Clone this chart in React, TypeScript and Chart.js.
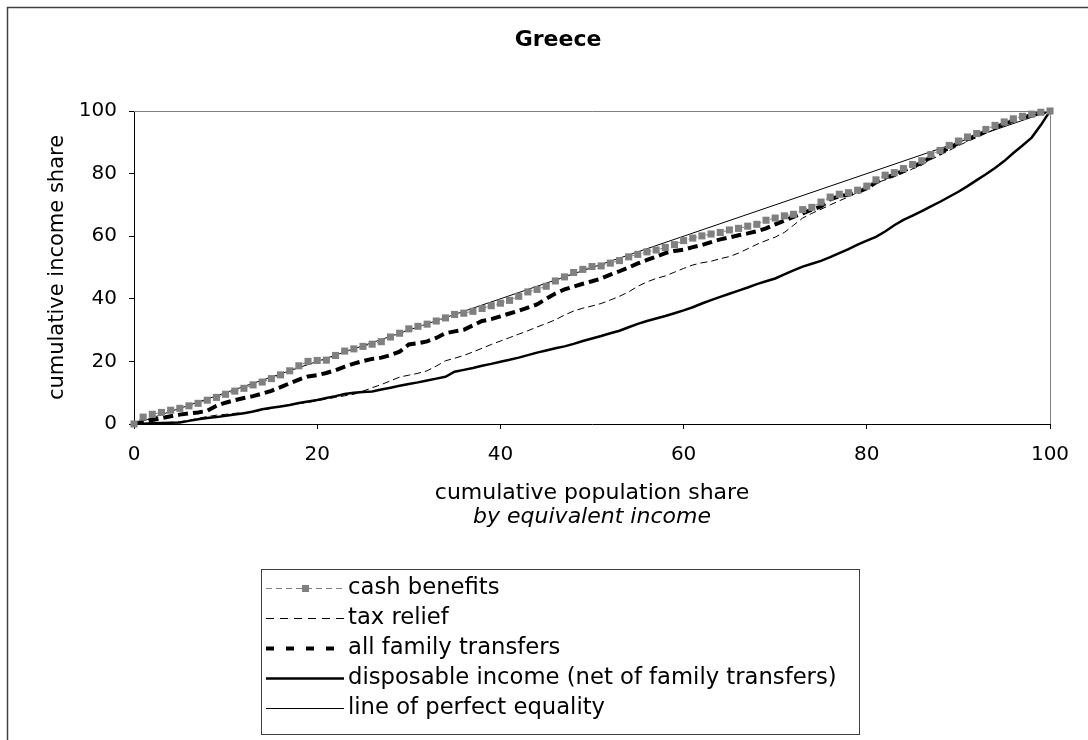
import React, { useEffect, useRef } from "react";
import { Chart, registerables } from "chart.js";

Chart.register(...registerables);

const chartTitle = "Greece";
const xTitle = "cumulative population share";
const xSubtitle = "by equivalent income";
const yTitle = "cumulative income share";
const axisTicks = [0, 20, 40, 60, 80, 100];

const populationShare = [
  0, 1, 2, 3, 4, 5, 6, 7, 8, 9,
  10, 11, 12, 13, 14, 15, 16, 17, 18, 19,
  20, 21, 22, 23, 24, 25, 26, 27, 28, 29,
  30, 31, 32, 33, 34, 35, 36, 37, 38, 39,
  40, 41, 42, 43, 44, 45, 46, 47, 48, 49,
  50, 51, 52, 53, 54, 55, 56, 57, 58, 59,
  60, 61, 62, 63, 64, 65, 66, 67, 68, 69,
  70, 71, 72, 73, 74, 75, 76, 77, 78, 79,
  80, 81, 82, 83, 84, 85, 86, 87, 88, 89,
  90, 91, 92, 93, 94, 95, 96, 97, 98, 99, 100,
];

const cashBenefits = [
  0, 2.2, 3.1, 3.7, 4.4, 5.0, 5.8, 6.6, 7.6, 8.5,
  9.5, 10.5, 11.4, 12.5, 13.4, 14.5, 15.7, 17.0, 18.6, 20.0,
  20.3, 20.4, 21.9, 23.3, 24.0, 24.8, 25.5, 26.3, 27.8, 29.0,
  30.4, 31.2, 31.9, 32.9, 33.9, 35.0, 35.4, 36.0, 36.9, 37.8,
  38.6, 39.5, 40.8, 42.2, 43.0, 44.0, 45.7, 47.0, 48.4, 49.4,
  50.3, 50.5, 51.4, 52.2, 53.4, 54.2, 55.0, 55.6, 56.4, 57.3,
  58.6, 59.4, 60.1, 60.7, 61.2, 62.0, 62.5, 63.2, 63.8, 65.1,
  65.8, 66.5, 67.0, 68.5, 69.2, 70.9, 72.5, 73.4, 73.9, 74.7,
  76.0, 78.0, 79.5, 80.3, 81.6, 82.9, 84.1, 86.1, 87.4, 89.0,
  90.4, 91.7, 92.8, 94.1, 95.4, 96.5, 97.5, 98.3, 99.0, 99.6, 100,
];

const taxRelief = [
  0, 0.1, 0.2, 0.3, 0.5, 0.7, 1.2, 1.8, 2.4, 2.8,
  3.1, 3.4, 3.7, 3.9, 4.4, 5.0, 5.7, 6.1, 6.5, 6.9,
  7.4, 8.0, 8.5, 9.0, 9.5, 10.5, 11.6, 12.6, 13.8, 15.0,
  15.6, 16.2, 17.0, 18.5, 20.2, 21.0, 21.9, 23.0, 24.2, 25.4,
  26.5, 27.6, 28.7, 29.8, 31.0, 32.1, 33.3, 34.8, 36.1, 37.0,
  37.7, 38.5, 39.6, 40.8, 42.2, 44.0, 45.4, 46.5, 47.3, 48.5,
  49.7, 50.8, 51.5, 52.0, 52.8, 53.5, 54.6, 56.0, 57.4, 58.6,
  59.7, 61.2, 63.5, 65.8, 67.3, 68.6, 70.0, 71.3, 72.6, 74.0,
  75.5, 77.0, 78.0, 79.0, 80.2, 81.5, 82.7, 84.5, 85.9, 87.4,
  88.9, 90.3, 91.5, 92.9, 94.2, 95.4, 96.5, 97.6, 98.5, 99.3, 100,
];

const allFamilyTransfers = [
  0, 0.7, 1.3, 1.9, 2.5, 3.0, 3.4, 3.7, 4.2, 5.8,
  6.8, 7.6, 8.3, 8.9, 9.7, 10.6, 11.8, 13.0, 14.2, 15.2,
  15.6, 16.3, 17.2, 18.3, 19.3, 20.1, 20.8, 21.2, 22.0, 23.1,
  25.4, 25.8, 26.4, 27.5, 29.0, 29.6, 30.1, 31.5, 32.9, 33.5,
  34.4, 35.3, 36.2, 37.2, 38.2, 40.0, 41.7, 43.0, 43.9, 44.8,
  45.6, 46.5, 47.7, 48.8, 50.0, 51.3, 52.4, 53.5, 54.6, 55.3,
  55.7, 56.5, 57.2, 58.1, 59.0, 59.6, 60.3, 60.9, 61.6, 62.5,
  63.8, 65.0, 66.2, 67.3, 68.5, 69.5, 71.8, 72.8, 73.3, 74.1,
  75.3, 77.2, 78.7, 79.6, 80.9, 82.2, 83.4, 85.3, 86.7, 88.3,
  89.7, 91.0, 92.2, 93.5, 94.8, 95.9, 97.0, 97.9, 98.7, 99.4, 100,
];

const disposableIncome = [
  0, 0.1, 0.2, 0.3, 0.4, 0.5, 1.0, 1.5, 1.9, 2.2,
  2.6, 3.0, 3.4, 4.0, 4.7, 5.2, 5.6, 6.1, 6.7, 7.2,
  7.7, 8.3, 8.9, 9.6, 10.0, 10.2, 10.4, 11.0, 11.6, 12.2,
  12.8, 13.3, 13.9, 14.5, 15.1, 16.7, 17.3, 17.9, 18.6, 19.2,
  19.9, 20.5, 21.2, 22.0, 22.8, 23.5, 24.2, 24.8, 25.6, 26.5,
  27.3, 28.1, 29.0, 29.8, 30.9, 32.0, 32.9, 33.7, 34.5, 35.4,
  36.3, 37.3, 38.5, 39.6, 40.6, 41.6, 42.6, 43.6, 44.7, 45.6,
  46.5, 47.8, 49.1, 50.3, 51.2, 52.1, 53.3, 54.6, 55.9, 57.3,
  58.6, 59.8, 61.5, 63.5, 65.2, 66.6, 68.0, 69.5, 71.0, 72.6,
  74.2, 76.0, 77.9, 79.8, 81.8, 84.0, 86.6, 89.0, 91.5, 95.5, 100,
];

const equalityX = [0, 100];
const equalityY = [0, 100];

const legendLabels = [
  "cash benefits",
  "tax relief",
  "all family transfers",
  "disposable income (net of family transfers)",
  "line of perfect equality",
];

const FONT = '"DejaVu Sans", Verdana, sans-serif';

const toPoints = (xs: number[], ys: number[]) => xs.map((x, i) => ({ x, y: ys[i] }));

const decorPlugin = {
  id: "decor",
  beforeDraw(chart: any) {
    const { ctx, width, height } = chart;
    ctx.save();
    ctx.fillStyle = "#ffffff";
    ctx.fillRect(0, 0, width, height);
    ctx.restore();
  },
  afterDraw(chart: any) {
    const { ctx, chartArea: a } = chart;
    ctx.save();
    // outer chart frame
    ctx.strokeStyle = "#404040";
    ctx.lineWidth = 1.5;
    ctx.strokeRect(7.5, 7.5, 1200, 1000);
    // plot area top/right border
    ctx.strokeStyle = "#808080";
    ctx.lineWidth = 1;
    ctx.setLineDash([]);
    ctx.beginPath();
    ctx.moveTo(a.left, Math.round(a.top) + 0.5);
    ctx.lineTo(Math.round(a.right) + 0.5, Math.round(a.top) + 0.5);
    ctx.lineTo(Math.round(a.right) + 0.5, a.bottom);
    ctx.stroke();
    // title
    ctx.fillStyle = "#000";
    ctx.textAlign = "center";
    ctx.textBaseline = "middle";
    ctx.font = `bold 22px ${FONT}`;
    ctx.fillText(chartTitle, 558, 40);
    // x subtitle
    ctx.font = `italic 22px ${FONT}`;
    ctx.fillText(xSubtitle, (a.left + a.right) / 2, 517);

    // legend
    ctx.font = `22.7px ${FONT}`;
    const textX = 348;
    let maxW = 0;
    legendLabels.forEach((l) => (maxW = Math.max(maxW, ctx.measureText(l).width)));
    const lx = 261.5, ly = 569.5, lb = 734.5;
    const lr = Math.round(textX + maxW + 22) + 0.5;
    ctx.strokeStyle = "#404040";
    ctx.lineWidth = 1;
    ctx.strokeRect(lx, ly, lr - lx, lb - ly);
    const sx0 = 266, sx1 = 344;
    legendLabels.forEach((label, i) => {
      const y = 588 + i * 30;
      ctx.save();
      ctx.beginPath();
      if (i === 0) {
        ctx.strokeStyle = "#808080";
        ctx.lineWidth = 1;
        ctx.setLineDash([6, 4]);
      } else if (i === 1) {
        ctx.strokeStyle = "#000";
        ctx.lineWidth = 1;
        ctx.setLineDash([8, 6]);
      } else if (i === 2) {
        ctx.strokeStyle = "#000";
        ctx.lineWidth = 4;
        ctx.setLineDash([8, 12]);
      } else if (i === 3) {
        ctx.strokeStyle = "#000";
        ctx.lineWidth = 2.5;
        ctx.setLineDash([]);
      } else {
        ctx.strokeStyle = "#000";
        ctx.lineWidth = 1;
        ctx.setLineDash([]);
      }
      ctx.moveTo(sx0, y + 0.5);
      ctx.lineTo(sx1, y + 0.5);
      ctx.stroke();
      if (i === 0) {
        ctx.fillStyle = "#808080";
        ctx.fillRect(302, y - 3, 7, 7);
      }
      ctx.restore();
      ctx.fillStyle = "#000";
      ctx.textAlign = "left";
      ctx.textBaseline = "middle";
      ctx.fillText(label, textX, y);
    });
    ctx.restore();
  },
};

export default function App() {
  const canvasRef = useRef<HTMLCanvasElement | null>(null);

  useEffect(() => {
    document.body.style.margin = "0";
    document.body.style.overflow = "hidden";
    const canvas = canvasRef.current;
    if (!canvas) return;
    Chart.defaults.font.family = FONT;
    Chart.defaults.color = "#000";

    const tickOpts = (padding: number) => ({
      font: { size: 20, family: FONT },
      color: "#000",
      padding,
    });

    const chart = new Chart(canvas, {
      type: "line",
      data: {
        datasets: [
          {
            label: legendLabels[0],
            data: toPoints(populationShare, cashBenefits),
            borderColor: "#808080",
            borderWidth: 1,
            borderDash: [3, 3],
            pointStyle: "rect",
            pointRadius: 5,
            pointBackgroundColor: "#808080",
            pointBorderWidth: 0,
            pointBorderColor: "#808080",
            clip: false,
          } as any,
          {
            label: legendLabels[2],
            data: toPoints(populationShare, allFamilyTransfers),
            borderColor: "#000",
            borderWidth: 4,
            borderDash: [10, 5],
            pointRadius: 0,
          },
          {
            label: legendLabels[1],
            data: toPoints(populationShare, taxRelief),
            borderColor: "#000",
            borderWidth: 1,
            borderDash: [7, 4],
            pointRadius: 0,
          },
          {
            label: legendLabels[3],
            data: toPoints(populationShare, disposableIncome),
            borderColor: "#000",
            borderWidth: 2.5,
            pointRadius: 0,
          },
          {
            label: legendLabels[4],
            data: toPoints(equalityX, equalityY),
            borderColor: "#000",
            borderWidth: 1,
            pointRadius: 0,
          },
        ],
      },
      options: {
        responsive: false,
        animation: false,
        devicePixelRatio: 1,
        layout: { padding: { left: 0, top: 111, right: 38, bottom: 234 } },
        plugins: {
          legend: { display: false },
          title: { display: false },
          tooltip: { enabled: false },
        },
        elements: { line: { tension: 0 } },
        scales: {
          x: {
            type: "linear",
            min: 0,
            max: 100,
            afterBuildTicks: (s: any) => {
              s.ticks = axisTicks.map((v) => ({ value: v }));
            },
            afterFit: (s: any) => {
              s.height = 82;
            },
            ticks: tickOpts(14) as any,
            grid: {
              drawOnChartArea: false,
              drawTicks: true,
              tickLength: 5,
              color: "#000",
              tickColor: "#000",
            },
            border: { color: "#000", width: 1 },
            title: {
              display: true,
              text: xTitle,
              font: { size: 22, family: FONT },
              color: "#000",
              padding: { top: 0, bottom: 0 },
            },
          },
          y: {
            type: "linear",
            min: 0,
            max: 100,
            afterBuildTicks: (s: any) => {
              s.ticks = axisTicks.map((v) => ({ value: v }));
            },
            afterFit: (s: any) => {
              s.width = 134;
            },
            ticks: tickOpts(12) as any,
            grid: {
              drawOnChartArea: false,
              drawTicks: true,
              tickLength: 5,
              color: "#000",
              tickColor: "#000",
            },
            border: { color: "#000", width: 1 },
            title: {
              display: true,
              text: yTitle,
              font: { size: 21, family: FONT },
              color: "#000",
              padding: { top: 45, bottom: 0 },
            },
          },
        },
      },
      plugins: [decorPlugin],
    });

    return () => chart.destroy();
  }, []);

  return (
    <div style={{ width: 1088, height: 740 }}>
      <canvas ref={canvasRef} width={1088} height={740} style={{ display: "block" }} />
    </div>
  );
}
